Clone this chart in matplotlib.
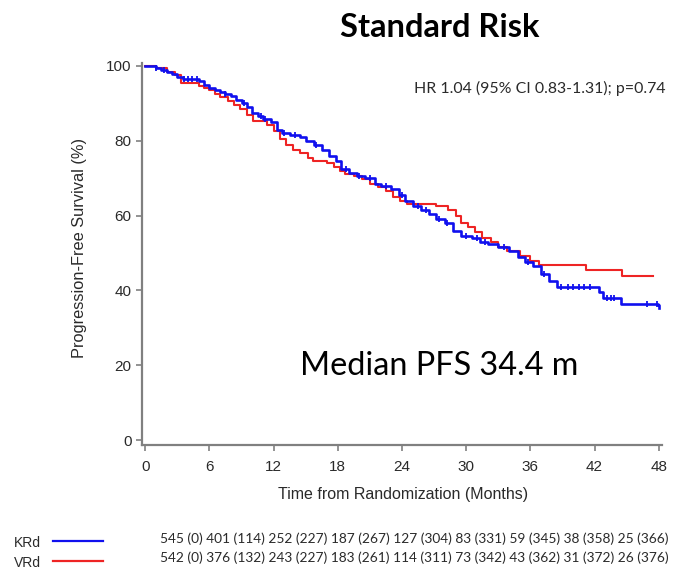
import numpy as np
import matplotlib.pyplot as plt

# Kaplan-Meier steps (months, % progression-free)
krd_t = [0, 1, 1.5, 2, 2.5, 3, 3.5, 5, 5.5, 6, 6.5, 7, 7.5, 8, 8.5, 9, 9.5, 10,
         10.5, 11, 11.8, 12.3, 12.8, 13.5, 14.5, 15, 15.8, 16.5, 17.2, 17.8,
         18.3, 19, 19.8, 20.5, 21.5, 22, 23, 23.7, 24.3, 25, 25.8, 26.5, 27.2,
         28, 28.8, 29.5, 30.5, 31.3, 32, 33, 34, 34.8, 35.5, 36.2, 37, 37.7,
         38.5, 42.4, 42.8, 44.5, 47.9, 48]
krd_s = [100, 99.5, 99, 98.5, 97.8, 97, 96.6, 96, 95, 94.2, 93.5, 93, 92.5, 92,
         91, 90, 89, 87.5, 86.5, 85.8, 85, 83, 82, 81.5, 81, 80, 79, 77.5, 76,
         74.5, 72.5, 71.5, 70.5, 70, 68.5, 68, 67, 65.5, 64, 62.5, 61.5, 60.5,
         59, 58, 56, 54.5, 54, 53, 52.5, 51.5, 50.5, 49, 47.5, 46.5, 44.5, 42.5,
         41, 39.5, 38, 36.5, 36, 35.3]
krd_cens = [1, 1.8, 3.6, 4.0, 4.4, 4.8, 7.5, 9.2, 10.8, 11.2, 13.0, 14.0, 16.0,
            18.8, 20.0, 21.0, 22.5, 24.0, 25.5, 26.2, 27.5, 28.2, 30.0, 31.0,
            31.8, 33.5, 35.8, 37.3, 38.9, 39.5, 40.0, 40.5, 41.0, 41.6, 43.2,
            43.5, 43.8, 46.9, 47.8]

vrd_t = [0, 1, 2, 2.8, 3.3, 5, 5.5, 6, 6.5, 7, 7.7, 8.3, 8.9, 9.5, 10.1, 11.4,
         12, 12.6, 13.2, 13.8, 14.5, 15.2, 15.7, 17, 17.6, 18.2, 18.7, 19.5,
         20.3, 21, 21.8, 22.5, 23.2, 23.8, 24.5, 27.2, 28.3, 29, 29.5, 30.2,
         30.8, 31.5, 32.3, 33, 33.8, 35, 36, 36.8, 41.2, 44.6, 47.5]
vrd_s = [100, 99.5, 98.5, 97.5, 95.5, 94.7, 94, 93.5, 92.5, 91.7, 90.5, 89.5,
         88.5, 87, 85.3, 84.3, 82.5, 80.5, 79, 77.6, 76.8, 75.5, 74.5, 74, 73,
         71.8, 71, 70.5, 69.8, 68.5, 67.7, 66.5, 65, 63.8, 63.2, 62.5, 61.5, 60,
         58, 57, 55.5, 54, 53, 51.5, 50.5, 49.2, 48, 46.8, 45.5, 43.8, 43.8]

xticks = [0, 6, 12, 18, 24, 30, 36, 42, 48]
yticks = [0, 20, 40, 60, 80, 100]

krd_risk = [545, 401, 252, 187, 127, 83, 59, 38, 25]
krd_event = [0, 114, 227, 267, 304, 331, 345, 358, 366]
vrd_risk = [542, 376, 243, 183, 114, 73, 43, 31, 26]
vrd_event = [0, 132, 227, 261, 311, 342, 362, 372, 376]

BLUE = '#1010ee'
RED = '#ee2424'
GREY = '#808080'
INK = '#2a2a2a'

fig = plt.figure(figsize=(6.74, 5.72), dpi=100)
ax = fig.add_axes([0.2107, 0.222, 0.7715, 0.668])

ax.plot(vrd_t, vrd_s, drawstyle='steps-post', color=RED, lw=1.5)
ax.plot(krd_t, krd_s, drawstyle='steps-post', color=BLUE, lw=1.9)
# censor ticks on the KRd curve
idx = np.searchsorted(krd_t, krd_cens, side='right') - 1
ax.plot(krd_cens, np.array(krd_s)[idx], ls='none', marker='|', ms=5,
        mew=1.3, color=BLUE)

ax.set_xlim(-0.3, 48.3)
ax.set_ylim(-1.3, 100.8)
ax.set_xticks(xticks)
ax.set_yticks(yticks)
for s in ['top', 'right']:
    ax.spines[s].set_visible(False)
for s in ['left', 'bottom']:
    ax.spines[s].set_color(GREY)
    ax.spines[s].set_linewidth(1.6)
ax.tick_params(colors=GREY, length=4, width=1.2, labelcolor=INK,
               labelsize=11)
ax.tick_params(axis='x', pad=7)
ax.tick_params(axis='y', pad=3.5)
for lab in ax.get_xticklabels() + ax.get_yticklabels():
    lab.set_family('Liberation Sans')

ax.set_xlabel('Time from Randomization (Months)', family='Liberation Sans',
              fontsize=11.5, color=INK)
ax.set_ylabel('Progression-Free Survival (%)', family='Liberation Sans',
              fontsize=11.8, color=INK)
ax.xaxis.set_label_coords(0.502, -0.111)
ax.yaxis.set_label_coords(-0.105, 0.516)

fig.text(0.653, 0.952, 'Standard Risk', ha='center', va='center',
         family='Lato', fontweight='bold', fontsize=23.5)
fig.text(0.987, 0.845, 'HR 1.04 (95% CI 0.83-1.31); p=0.74', ha='right',
         va='center', family='Lato', fontsize=11.4, color=INK)
fig.text(0.652, 0.36, 'Median PFS 34.4 m', ha='center', va='center',
         family='Lato', fontsize=23.3)

# number-at-risk table
rows = [('KRd', BLUE, krd_risk, krd_event, 0.051, 0.054, 0.058),
        ('VRd', RED, vrd_risk, vrd_event, 0.016, 0.019, 0.0245)]
for name, col, risk, ev, ylab, yline, ynum in rows:
    fig.text(0.021, ylab, name, ha='left', va='center',
             family='Liberation Sans', fontsize=10, color=INK)
    fig.add_artist(plt.Line2D([0.079, 0.153], [yline, yline],
                              color=col, lw=1.6, transform=fig.transFigure))
    txt = ' '.join(f'{r} ({e})' for r, e in zip(risk, ev))
    fig.text(0.237, ynum, txt, ha='left', va='center', family='Lato',
             fontsize=9.88, color=INK)

fig.savefig('out.png', dpi=100)
